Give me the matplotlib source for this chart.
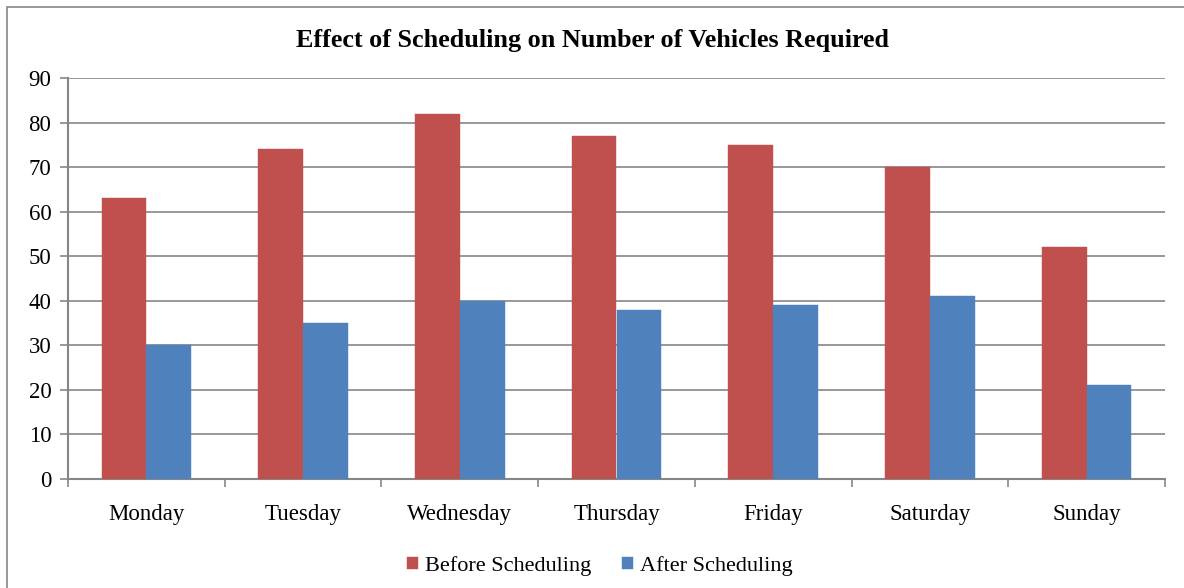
import matplotlib.pyplot as plt
from matplotlib.patches import Rectangle
import numpy as np

days = ['Monday', 'Tuesday', 'Wednesday', 'Thursday', 'Friday', 'Saturday', 'Sunday']
before = [63, 74, 82, 77, 75, 70, 52]
after = [30, 35, 40, 38, 39, 41, 21]
yticks = [0, 10, 20, 30, 40, 50, 60, 70, 80, 90]

plt.rcParams['font.family'] = ['Liberation Serif', 'DejaVu Serif']

fig = plt.figure(figsize=(11.84, 5.88), dpi=100)
ax = fig.add_axes([68/1184, 1-479/588, (1165-68)/1184, (479-78)/588])

# outer chart border (runs off the right and bottom edges)
fig.patches.append(Rectangle((7/1184, -0.1), 1.2, 1 - 7/588 + 0.1, transform=fig.transFigure,
                             fill=False, edgecolor='#868686', linewidth=1.2))

x = np.arange(len(days))
w = 2/7
ax.bar(x - w/2, before, w, color='#C0504D', edgecolor='#C0504D', linewidth=0.3,
       label='Before Scheduling', zorder=3)
ax.bar(x + w/2, after, w, color='#4F81BD', edgecolor='#4F81BD', linewidth=0.3,
       label='After Scheduling', zorder=3)

ax.set_xlim(-0.5, len(days) - 0.5)
ax.set_ylim(0, 90)
ax.set_yticks(yticks)
ax.yaxis.grid(True, color='#868686', linewidth=1.2, zorder=0)
ax.set_axisbelow(True)

ax.set_xticks(x)
ax.set_xticklabels(days, fontsize=16.5)
ax.set_xticks(np.arange(len(days) + 1) - 0.5, minor=True)
ax.tick_params(axis='x', which='major', length=0, pad=18)
ax.tick_params(axis='x', which='minor', length=6, width=1.2, color='#868686')
ax.tick_params(axis='y', length=6, width=1.2, color='#868686', labelsize=16.5, pad=6)

for s in ['top', 'right']:
    ax.spines[s].set_visible(False)
for s in ['left', 'bottom']:
    ax.spines[s].set_color('#868686')
    ax.spines[s].set_linewidth(1.5)

fig.text(0.5, 1 - 40/588, 'Effect of Scheduling on Number of Vehicles Required',
         ha='center', va='center', fontsize=18.8, fontweight='bold')

ax.legend(loc='center', bbox_to_anchor=((600-68)/1097, (479-566)/(479-78)), ncol=2,
          frameon=False, fontsize=16, handlelength=0.5, handleheight=0.5,
          handletextpad=0.3, columnspacing=1.4)

fig.savefig('out.png', dpi=100)
